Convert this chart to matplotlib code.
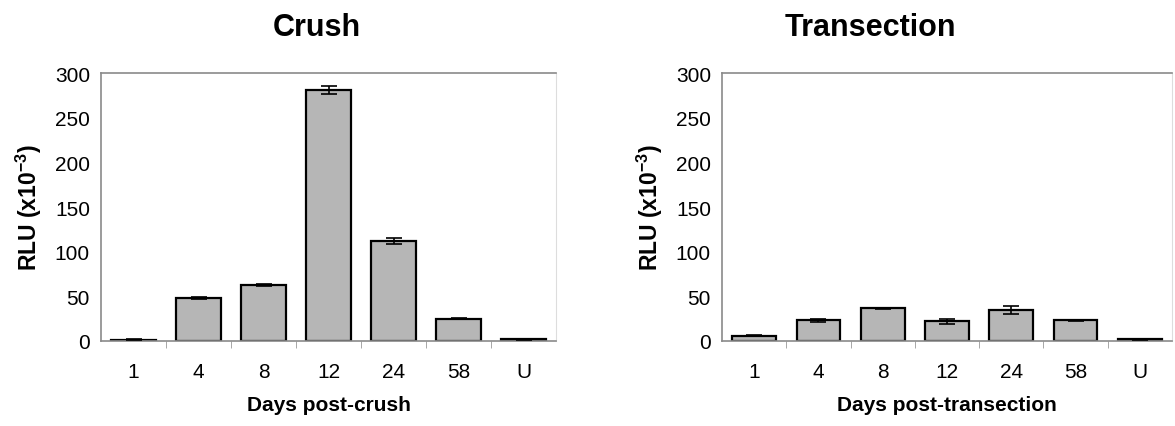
import numpy as np
import matplotlib.pyplot as plt

plt.rcParams['font.family'] = ['Liberation Sans', 'DejaVu Sans']
plt.rcParams['mathtext.fontset'] = 'custom'
plt.rcParams['mathtext.rm'] = 'Liberation Sans'
plt.rcParams['mathtext.bf'] = 'Liberation Sans:bold'

days = ['1', '4', '8', '12', '24', '58', 'U']

crush = [1.5, 48, 63, 281, 112, 25, 2]
crush_err = [0.5, 1, 1, 5, 3, 0.5, 0.5]

trans = [6, 23, 36.5, 22, 35, 23, 2]
trans_err = [0.5, 1.5, 1, 3, 4.5, 0.5, 0.5]

fig = plt.figure(figsize=(11.75, 4.27), dpi=100)
ax1 = fig.add_axes([101/1175, 1-342/427, 455/1175, 268/427])
ax2 = fig.add_axes([722/1175, 1-342/427, 450/1175, 268/427])

def panel(ax, vals, errs, xlabel):
    x = np.arange(len(days))
    ax.bar(x, vals, width=0.68, color='#b6b6b6', edgecolor='black', linewidth=1.6, zorder=2)
    ax.errorbar(x, vals, yerr=errs, fmt='none', ecolor='black', elinewidth=1.2,
                capsize=6, capthick=1.2, zorder=3)
    ax.set_xlim(-0.5, len(days) - 0.5)
    ax.set_ylim(0, 300)
    ax.set_yticks(range(0, 301, 50))
    ax.set_xticks(x)
    ax.set_xticklabels(days)
    ax.set_xticks(np.arange(0.5, len(days) - 0.5, 1), minor=True)
    ax.tick_params(axis='x', which='major', length=0, labelsize=15, pad=15)
    ax.tick_params(axis='x', which='minor', length=5, color='#999999', direction='out')
    ax.tick_params(axis='y', length=0, labelsize=15, pad=8)
    for s in ['left', 'top', 'bottom']:
        ax.spines[s].set_color('#8a8a8a')
        ax.spines[s].set_linewidth(1.2)
    ax.spines['right'].set_color('#dddddd')
    ax.set_xlabel(xlabel, fontsize=15, fontweight='bold', labelpad=10)
    ax.set_ylabel(r'RLU (x10$^{\mathbf{-3}}$)', fontsize=16.5, fontweight='bold', labelpad=8)

panel(ax1, crush, crush_err, 'Days post-crush')
panel(ax2, trans, trans_err, 'Days post-transection')

fig.text(317/1175, 1-28/427, 'Crush', fontsize=22, fontweight='bold', ha='center', va='center')
fig.text(870/1175, 1-28/427, 'Transection', fontsize=22, fontweight='bold', ha='center', va='center')

fig.savefig('out.png', dpi=100)
